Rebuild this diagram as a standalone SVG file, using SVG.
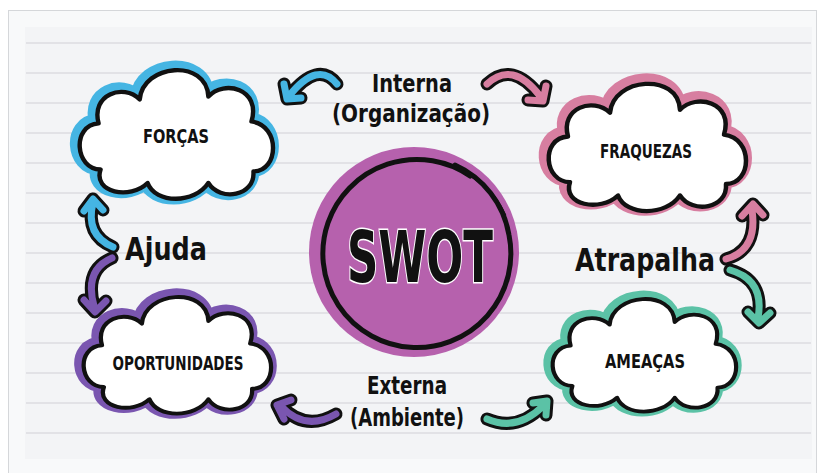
<svg xmlns="http://www.w3.org/2000/svg" xmlns:xlink="http://www.w3.org/1999/xlink" width="821" height="473" viewBox="0 0 821 473">
  <style>
    .lbl { font-family: "DejaVu Sans", "Liberation Sans", sans-serif; font-weight: bold; fill: #111; text-anchor: middle; }
    .node { font-size: 19px; }
    .side { font-size: 32px; }
    .axis { font-size: 24px; }
    .halo { stroke-width: 16; stroke-linejoin: round; }
    .outline { fill: #ffffff; stroke: #111; stroke-width: 4.5; stroke-linejoin: round; }
    .arr-o { fill: none; stroke: #111; stroke-width: 13; stroke-linecap: round; stroke-linejoin: round; }
    .arr-c { fill: none; stroke-width: 7; stroke-linecap: round; stroke-linejoin: round; }
    .rule { stroke: #dcdde0; stroke-width: 1.6; }
  </style>
  <defs>
    <!-- generic cloud, roughly 200 x 140 around the origin -->
    <path id="cloud" d="M -78 38 C -104 38 -108 -8 -80 -10 C -88 -40 -55 -52 -38 -35 C -35 -72 30 -78 32 -38 C 48 -56 86 -46 76 -12 C 106 -8 104 40 78 40 C 80 66 44 72 32 52 C 18 74 -22 74 -30 52 C -48 70 -86 62 -78 38 Z"/>
  </defs>

  <!-- card and ruled paper -->
  <rect x="0" y="0" width="821" height="473" fill="#ffffff"/>
  <rect x="8.5" y="10.5" width="808" height="470" fill="#f8f9fa" stroke="#d5d7da" stroke-width="1"/>
  <rect x="25" y="27" width="787" height="432" fill="#f3f4f6"/>
  <g class="rule">
    <line x1="26" y1="43" x2="811" y2="43"/>
    <line x1="26" y1="73" x2="811" y2="73"/>
    <line x1="26" y1="103" x2="811" y2="103"/>
    <line x1="26" y1="133" x2="811" y2="133"/>
    <line x1="26" y1="163" x2="811" y2="163"/>
    <line x1="26" y1="193" x2="811" y2="193"/>
    <line x1="26" y1="223" x2="811" y2="223"/>
    <line x1="26" y1="253" x2="811" y2="253"/>
    <line x1="26" y1="283" x2="811" y2="283"/>
    <line x1="26" y1="313" x2="811" y2="313"/>
    <line x1="26" y1="343" x2="811" y2="343"/>
    <line x1="26" y1="373" x2="811" y2="373"/>
    <line x1="26" y1="403" x2="811" y2="403"/>
    <line x1="26" y1="433" x2="811" y2="433"/>
  </g>

  <!-- connectors -->
  <g id="connectors">
    <!-- Interna -> Forças -->
    <path class="arr-o" d="M 337 84 Q 318 60 289 96 M 284 84 L 287 99 L 301 98"/>
    <path class="arr-c" stroke="#45b5e3" d="M 337 84 Q 318 60 289 96 M 284 84 L 287 99 L 301 98"/>
    <!-- Interna -> Fraquezas -->
    <path class="arr-o" d="M 487 84 Q 512 60 540 96 M 528 100 L 543 101 L 546 86"/>
    <path class="arr-c" stroke="#d77ea0" d="M 487 84 Q 512 60 540 96 M 528 100 L 543 101 L 546 86"/>
    <!-- Ajuda -> Forças -->
    <path class="arr-o" d="M 113 247 Q 85 235 93 203 M 84 211 L 93 199 L 103 210"/>
    <path class="arr-c" stroke="#45b5e3" d="M 113 247 Q 85 235 93 203 M 84 211 L 93 199 L 103 210"/>
    <!-- Ajuda -> Oportunidades -->
    <path class="arr-o" d="M 112 258 Q 84 270 94 306 M 84 300 L 95 312 L 106 301"/>
    <path class="arr-c" stroke="#7a56b0" d="M 112 258 Q 84 270 94 306 M 84 300 L 95 312 L 106 301"/>
    <!-- Atrapalha -> Fraquezas -->
    <path class="arr-o" d="M 726 259 Q 758 250 752 210 M 742 216 L 753 204 L 763 215"/>
    <path class="arr-c" stroke="#d77ea0" d="M 726 259 Q 758 250 752 210 M 742 216 L 753 204 L 763 215"/>
    <!-- Atrapalha -> Ameaças -->
    <path class="arr-o" d="M 730 270 Q 765 280 758 318 M 748 312 L 759 323 L 770 313"/>
    <path class="arr-c" stroke="#5bc2a6" d="M 730 270 Q 765 280 758 318 M 748 312 L 759 323 L 770 313"/>
    <!-- Externa -> Oportunidades -->
    <path class="arr-o" d="M 336 414 Q 305 432 281 406 M 291 400 L 277 405 L 284 419"/>
    <path class="arr-c" stroke="#7a56b0" d="M 336 414 Q 305 432 281 406 M 291 400 L 277 405 L 284 419"/>
    <!-- Externa -> Ameaças -->
    <path class="arr-o" d="M 487 419 Q 517 432 543 406 M 533 403 L 547 401 L 546 415"/>
    <path class="arr-c" stroke="#5bc2a6" d="M 487 419 Q 517 432 543 406 M 533 403 L 547 401 L 546 415"/>
  </g>

  <!-- axis labels -->
  <text class="lbl axis" x="412" y="92" textLength="80" lengthAdjust="spacingAndGlyphs">Interna</text>
  <text class="lbl axis" x="411" y="122" textLength="158" lengthAdjust="spacingAndGlyphs">(Organização)</text>
  <text class="lbl side" x="166" y="260" textLength="82" lengthAdjust="spacingAndGlyphs">Ajuda</text>
  <text class="lbl side" x="645" y="271" textLength="140" lengthAdjust="spacingAndGlyphs">Atrapalha</text>
  <text class="lbl axis" x="407" y="394" textLength="80" lengthAdjust="spacingAndGlyphs">Externa</text>
  <text class="lbl axis" x="407" y="426" textLength="114" lengthAdjust="spacingAndGlyphs">(Ambiente)</text>

  <!-- Forças -->
  <g id="forcas">
    <g transform="translate(177,133) scale(0.98,0.96)">
      <use xlink:href="#cloud" class="halo" fill="#45b5e3" stroke="#45b5e3" transform="translate(-2,-2)"/>
      <use xlink:href="#cloud" class="outline"/>
    </g>
    <text class="lbl node" x="176" y="143" textLength="66" lengthAdjust="spacingAndGlyphs">FORÇAS</text>
  </g>

  <!-- Fraquezas -->
  <g id="fraquezas">
    <g transform="translate(648,146) scale(1.0,0.95)">
      <use xlink:href="#cloud" class="halo" fill="#d77ea0" stroke="#d77ea0" transform="translate(-2,-3)"/>
      <use xlink:href="#cloud" class="outline"/>
    </g>
    <text class="lbl node" x="646" y="158" textLength="92" lengthAdjust="spacingAndGlyphs">FRAQUEZAS</text>
  </g>

  <!-- Oportunidades -->
  <g id="oportunidades">
    <g transform="translate(178,354) scale(0.95,0.87)">
      <use xlink:href="#cloud" class="halo" fill="#7a56b0" stroke="#7a56b0" transform="translate(-2,-2)"/>
      <use xlink:href="#cloud" class="outline"/>
    </g>
    <text class="lbl node" x="178" y="370" textLength="131" lengthAdjust="spacingAndGlyphs">OPORTUNIDADES</text>
  </g>

  <!-- Ameaças -->
  <g id="ameacas">
    <g transform="translate(645,354) scale(0.93,0.84)">
      <use xlink:href="#cloud" class="halo" fill="#5bc2a6" stroke="#5bc2a6" transform="translate(-2,-2)"/>
      <use xlink:href="#cloud" class="outline"/>
    </g>
    <text class="lbl node" x="645" y="368" textLength="80" lengthAdjust="spacingAndGlyphs">AMEAÇAS</text>
  </g>

  <!-- SWOT -->
  <g id="swot">
    <circle cx="414" cy="252" r="105" fill="#b661ad"/>
    <path d="M 470 176 A 94 94 0 1 0 509 235 A 94 94 0 0 0 455 165" fill="none" stroke="#111" stroke-width="5" stroke-linecap="round"/>
    <path d="M 440 163 A 92 92 0 0 1 505 215" fill="none" stroke="#111" stroke-width="2.5" stroke-linecap="round"/>
    <text class="lbl" x="420" y="282" font-size="72" textLength="146" lengthAdjust="spacingAndGlyphs" stroke="#ffffff" stroke-width="3" paint-order="stroke">SWOT</text>
  </g>
</svg>
